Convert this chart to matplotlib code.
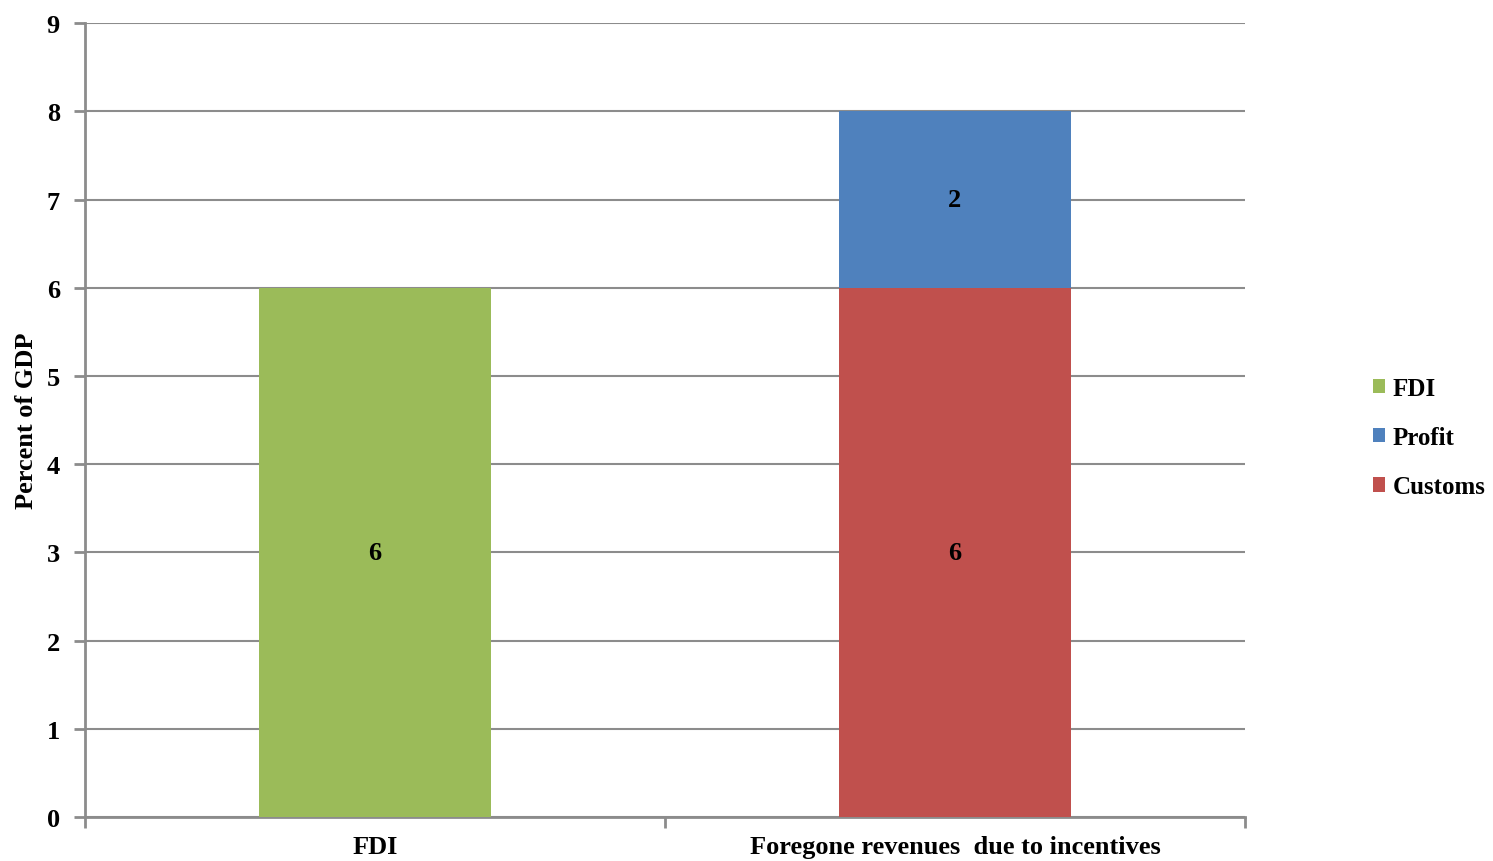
from matplotlib import pyplot as plt

# chart data
categories = ["FDI", "Foregone revenues  due to incentives"]
fdi = [6, 0]
customs = [0, 6]
profit = [0, 2]
y_ticks = [0, 1, 2, 3, 4, 5, 6, 7, 8, 9]

green = "#9BBB59"
blue = "#4F81BD"
red = "#C0504D"
grid_grey = "#8C8C8C"

plt.rcParams["font.family"] = ["Liberation Serif", "DejaVu Serif"]
plt.rcParams["font.weight"] = "bold"
FS = 19


def main():
    fig = plt.figure(figsize=(14.93, 8.62), dpi=100)
    ax = fig.add_axes([0.0569, 0.051, 0.777, 0.921])

    x = range(len(categories))
    width = 0.4
    b_fdi = ax.bar(x, fdi, width, color=green, label="FDI", zorder=3)
    b_cus = ax.bar(x, customs, width, color=red, label="Customs", zorder=3)
    b_pro = ax.bar(x, profit, width, bottom=customs, color=blue, label="Profit", zorder=3)

    # value labels in the middle of each non-empty segment
    for bars, vals, base in [(b_fdi, fdi, [0, 0]), (b_cus, customs, [0, 0]), (b_pro, profit, customs)]:
        for rect, v, b in zip(bars, vals, base):
            if v:
                ax.text(rect.get_x() + rect.get_width() / 2, b + v / 2, str(v),
                        ha="center", va="center", fontsize=FS, fontweight="bold", zorder=4)

    ax.set_xlim(-0.5, 1.5)
    ax.set_ylim(0, 9)
    ax.set_yticks(y_ticks)
    ax.set_yticklabels([str(t) for t in y_ticks], fontsize=FS, fontweight="bold")

    # category labels centred, tick marks on the category boundaries
    ax.set_xticks([-0.5, 0.5, 1.5])
    ax.set_xticklabels([])
    ax.set_xticks(list(x), minor=True)
    ax.set_xticklabels(categories, minor=True, fontsize=FS, fontweight="bold")
    ax.tick_params(axis="x", which="minor", length=0, pad=13)
    ax.tick_params(axis="x", which="major", length=8, width=2, color=grid_grey, direction="out")
    ax.tick_params(axis="y", length=8, width=2, color=grid_grey, direction="out", pad=10)

    ax.grid(axis="y", color=grid_grey, linewidth=1.5, zorder=0)
    ax.set_axisbelow(True)
    for side in ["top", "right"]:
        ax.spines[side].set_visible(False)
    for side in ["left", "bottom"]:
        ax.spines[side].set_color(grid_grey)
        ax.spines[side].set_linewidth(2)

    ax.set_ylabel("Percent of GDP", fontsize=FS, fontweight="bold", labelpad=6)

    handles = [b_fdi, b_pro, b_cus]
    ax.legend(handles, ["FDI", "Profit", "Customs"], loc="center left",
              bbox_to_anchor=(1.11, 0.478), frameon=False, fontsize=18,
              handlelength=0.5, handleheight=0.5, handletextpad=0.3, labelspacing=1.05,
              borderaxespad=0, borderpad=0)

    fig.savefig("out.png", dpi=100)


if __name__ == "__main__":
    main()
